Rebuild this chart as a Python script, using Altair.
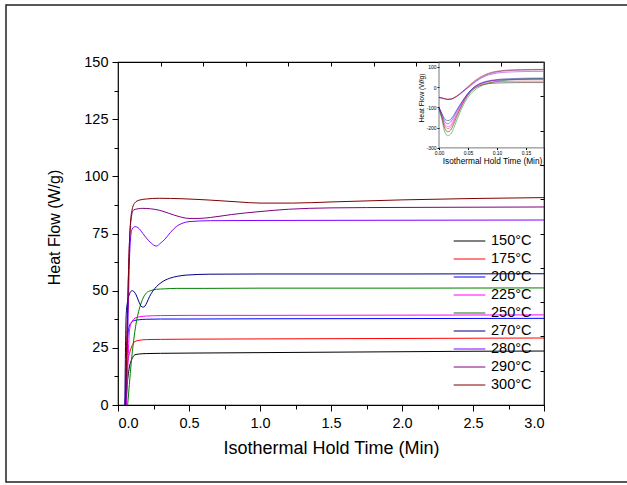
import altair as alt
import pandas as pd

FONT = "Liberation Sans"

# ---------------- data ----------------
labels = ["150°C", "175°C", "200°C", "225°C", "250°C", "270°C", "280°C", "290°C", "300°C"]
colors = ["#000000", "#FF0000", "#0000FF", "#FF00FF", "#008000", "#000080", "#8000FF", "#800080", "#800000"]

# main plot: isothermal hold time (min) vs heat flow (W/g)
t150 = [0.055, 0.065, 0.081, 0.1, 0.117, 0.15, 0.2, 0.3, 0.5, 1.0, 1.5, 2.0, 2.5, 3.0]
h150 = [0, 9, 16.8, 20.3, 21.9, 22.3, 22.5, 22.6, 22.7, 22.9, 23.1, 23.3, 23.5, 23.6]

t175 = [0.05, 0.06, 0.07, 0.081, 0.1, 0.117, 0.15, 0.2, 0.3, 0.5, 1.0, 2.0, 3.0]
h175 = [0, 13, 19.5, 22.6, 26, 27.7, 28.3, 28.6, 28.7, 28.8, 28.9, 29.1, 29.3]

t200 = [0.052, 0.06, 0.07, 0.08, 0.095, 0.12, 0.15, 0.2, 0.3, 0.5, 1.0, 2.0, 3.0]
h200 = [0, 20, 31, 34.5, 36.2, 37, 37.3, 37.5, 37.6, 37.6, 37.7, 37.8, 37.9]

t225 = [0.06, 0.07, 0.081, 0.095, 0.105, 0.12, 0.152, 0.2, 0.3, 0.5, 1.0, 2.0, 3.0]
h225 = [0, 18, 32.8, 36, 37.2, 38, 38.6, 38.9, 39.1, 39.2, 39.2, 39.3, 39.4]

t250 = [0.068, 0.08, 0.093, 0.11, 0.128, 0.145, 0.163, 0.18, 0.2, 0.23, 0.27, 0.33, 0.41, 0.6, 1.0, 2.0, 3.0]
h250 = [0, 9, 18.4, 28, 35.9, 40.8, 44.6, 47.2, 49, 50, 50.6, 50.8, 51, 51, 51.1, 51.1, 51.2]

t270 = [0.048, 0.058, 0.07, 0.081, 0.093, 0.102, 0.115, 0.128, 0.145, 0.163, 0.178, 0.19, 0.205,
        0.222, 0.245, 0.27, 0.31, 0.363, 0.42, 0.48, 0.645, 1.0, 2.0, 3.0]
h270 = [0, 40, 46, 48.6, 49.8, 50, 49.4, 48.1, 45.5, 43.2, 42.8, 43.3, 45,
        47.4, 49.8, 51.7, 53.8, 55.4, 56.3, 56.8, 57.2, 57.3, 57.3, 57.4]

t280 = [0.055, 0.07, 0.08, 0.09, 0.1, 0.12, 0.14, 0.175, 0.2, 0.234, 0.27, 0.3, 0.33, 0.37,
        0.41, 0.45, 0.5, 0.65, 1.0, 2.0, 3.0]
h280 = [0, 35, 62, 74, 77, 78, 77.6, 75, 73, 70.8, 69.5, 70.8, 72.5, 75.5,
        78, 79.4, 80.2, 80.6, 80.7, 80.8, 80.9]

t290 = [0.052, 0.065, 0.08, 0.095, 0.11, 0.14, 0.175, 0.23, 0.29, 0.36, 0.43, 0.5, 0.57, 0.65,
        0.8, 1.0, 1.2, 1.5, 2.0, 2.5, 3.0]
h290 = [0, 35, 70, 82.5, 85.3, 85.8, 86, 85.8, 85.2, 83.8, 82.4, 81.6, 81.6, 82,
        83.3, 84.6, 85.6, 86.2, 86.4, 86.5, 86.6]

t300 = [0.053, 0.065, 0.08, 0.095, 0.117, 0.15, 0.2, 0.29, 0.45, 0.65, 0.85, 1.0, 1.23, 1.5, 2.0, 2.5, 3.0]
h300 = [0, 35, 70, 84, 88.3, 89.6, 90.1, 90.4, 90.2, 89.6, 88.8, 88.3, 88.3, 88.8, 89.7, 90.3, 90.7]

main_t = [t150, t175, t200, t225, t250, t270, t280, t290, t300]
main_h = [h150, h175, h200, h225, h250, h270, h280, h290, h300]

# inset: first 0.18 min of the hold
inset_t = [0, 0.005, 0.01, 0.015, 0.02, 0.025, 0.03, 0.04, 0.05, 0.06, 0.07, 0.08, 0.09, 0.1, 0.12, 0.14, 0.16, 0.18]
i150 = [-105, -150, -205, -220, -212, -185, -150, -88, -40, -9, 7, 15, 19, 21, 22, 23, 23, 23]
i175 = [-104, -145, -192, -205, -198, -172, -140, -82, -36, -6, 10, 19, 24, 27, 29, 30, 30, 30]
i200 = [-100, -135, -170, -180, -172, -150, -122, -72, -30, -2, 15, 25, 31, 34, 37, 38, 39, 39]
i225 = [-102, -140, -182, -195, -188, -163, -133, -78, -34, -4, 14, 25, 31, 35, 38, 39, 40, 40]
i250 = [-110, -160, -222, -240, -232, -205, -168, -100, -50, -18, 2, 15, 23, 29, 36, 40, 42, 43]
i270 = [-100, -130, -158, -165, -160, -140, -115, -70, -30, 0, 18, 28, 34, 38, 42, 44, 45, 45]
i280 = [-52, -55, -58, -61, -60, -55, -47, -26, -3, 20, 40, 55, 64, 70, 75, 77, 78, 78]
i290 = [-50, -53, -57, -60, -59, -54, -46, -24, 0, 24, 44, 59, 69, 76, 82, 84, 85, 86]
i300 = [-50, -53, -57, -59, -58, -53, -45, -22, 3, 28, 48, 63, 73, 79, 85, 87, 88, 88]
inset_h = [i150, i175, i200, i225, i250, i270, i280, i290, i300]

x_major = [0, 0.5, 1.0, 1.5, 2.0, 2.5, 3.0]
x_minor = [0.25, 0.75, 1.25, 1.75, 2.25, 2.75]
y_major = [0, 25, 50, 75, 100, 125, 150]
y_minor = [12.5, 37.5, 62.5, 87.5, 112.5, 137.5]
x_top = [0.3, 0.6, 0.9, 1.2, 1.5, 1.8, 2.1, 2.4, 2.7]
y_right = [15, 30, 45, 60, 75, 90, 105, 120, 135]
xi_ticks = [0, 0.05, 0.10, 0.15]
yi_ticks = [-300, -200, -100, 0, 100]

rows = []
for lab, ts, hs in zip(labels, main_t, main_h):
    for i, (t, h) in enumerate(zip(ts, hs)):
        rows.append({"series": lab, "t": t, "hf": h, "i": i})
main_df = pd.DataFrame(rows)

rows = []
for lab, hs in zip(labels, inset_h):
    for i, (t, h) in enumerate(zip(inset_t, hs)):
        rows.append({"series": lab, "ti": t, "hfi": h, "i": i})
inset_df = pd.DataFrame(rows)

# ---------------- layout ----------------
W, H = 426, 343
PAD = {"left": 118, "top": 62, "right": 627 - 118 - W, "bottom": 485 - 62 - H}


def xs_main():
    return alt.Scale(domain=[0, 3], nice=False, zero=False)


def ys_main():
    return alt.Scale(domain=[0, 150], nice=False, zero=False)


# inset scales place 0..0.18 min / -300..~125 W/g in the top-right corner of the plot area
def xs_in():
    return alt.Scale(domain=[-0.5534, 0.181], nice=False, zero=False)


def ys_in():
    return alt.Scale(domain=[-1571.6, 124.7], nice=False, zero=False)


base = alt.Chart(main_df)

lines = base.mark_line(strokeWidth=1, interpolate="monotone").encode(
    x=alt.X("t:Q", scale=xs_main(),
            axis=alt.Axis(orient="bottom", values=x_major, format=".1f", tickSize=6,
                          labelPadding=5, labelFontSize=14.5, domain=False,
                          title="Isothermal Hold Time (Min)", titleFontSize=18, titlePadding=10)),
    y=alt.Y("hf:Q", scale=ys_main(),
            axis=alt.Axis(orient="left", values=y_major, format="d", tickSize=6,
                          labelPadding=4, labelFontSize=14.5, domain=False,
                          title="Heat Flow (W/g)", titleFontSize=16, titlePadding=21, titleY=165)),
    color=alt.Color("series:N", scale=alt.Scale(domain=labels, range=colors), sort=labels, title=None,
                    legend=alt.Legend(orient="none", legendX=335, legendY=170, symbolType="stroke",
                                      symbolSize=1000, symbolStrokeWidth=1, labelFontSize=14.5,
                                      labelFont=FONT, labelColor="black", labelOffset=5, clipHeight=18,
                                      rowPadding=0, padding=0, labelLimit=200)),
    order=alt.Order("i:Q"),
)

ghost = base.mark_line(opacity=0)
minor_x = ghost.encode(
    x=alt.X("t:Q", scale=xs_main(), axis=alt.Axis(orient="bottom", values=x_minor, tickSize=4,
                                                  labels=False, domain=False, title="")),
    y=alt.Y("hf:Q", scale=ys_main(), axis=None),
)
minor_y = ghost.encode(
    x=alt.X("t:Q", scale=xs_main(), axis=None),
    y=alt.Y("hf:Q", scale=ys_main(), axis=alt.Axis(orient="left", values=y_minor, tickSize=4,
                                                   labels=False, domain=False, title="")),
)
top_ax = ghost.encode(
    x=alt.X("t:Q", scale=xs_main(), axis=alt.Axis(orient="top", values=x_top, tickSize=4, offset=-4,
                                                  labels=False, domain=False, title="")),
    y=alt.Y("hf:Q", scale=ys_main(), axis=None),
)
right_ax = ghost.encode(
    x=alt.X("t:Q", scale=xs_main(), axis=None),
    y=alt.Y("hf:Q", scale=ys_main(), axis=alt.Axis(orient="right", values=y_right, tickSize=4, offset=-4,
                                                   labels=False, domain=False, title="")),
)

frame_in = alt.Chart(alt.Data(values=[{}])).mark_rect(filled=False, stroke="#555", strokeWidth=0.8).encode(
    x=alt.XDatum(0, type="quantitative", scale=xs_in(), axis=None),
    x2=alt.value(W),
    y=alt.YDatum(-300, type="quantitative", scale=ys_in(), axis=None),
    y2=alt.value(0),
)

inset_lines = alt.Chart(inset_df).mark_line(strokeWidth=0.8, opacity=0.6, interpolate="monotone").encode(
    x=alt.X("ti:Q", scale=xs_in(),
            axis=alt.Axis(orient="bottom", offset=-257.5, values=xi_ticks, format=".2f", domain=False,
                          tickSize=2, labelFontSize=5, labelPadding=1, title="Isothermal Hold Time (Min)",
                          titleFontSize=8.3, titlePadding=1, titleX=374)),
    y=alt.Y("hfi:Q", scale=ys_in(),
            axis=alt.Axis(orient="left", offset=-321, values=yi_ticks, domain=False, tickSize=2,
                          labelExpr="datum.value < 0 ? '-' + format(-datum.value, 'd') : format(datum.value, 'd')",
                          labelFontSize=5, labelPadding=1, title="Heat Flow (W/g)", titleFontSize=6.8,
                          titlePadding=1.5, titleY=35.5)),
    color=alt.Color("series:N", scale=alt.Scale(domain=labels, range=colors), legend=None),
    order=alt.Order("i:Q"),
)

outer_frame = alt.Chart(alt.Data(values=[{}])).mark_rect(filled=False, stroke="#222", strokeWidth=1.5).encode(
    x=alt.value(-112), x2=alt.value(522), y=alt.value(-57), y2=alt.value(420)
)

chart = (
    alt.layer(outer_frame, lines, minor_x, minor_y, top_ax, right_ax, frame_in, inset_lines)
    .resolve_scale(x="independent", y="independent", color="independent")
    .properties(width=W, height=H, padding=PAD, autosize=alt.AutoSizeParams(type="none"),
                background="white")
    .configure_view(stroke="black", strokeWidth=1.2)
    .configure_axis(grid=False, labelFont=FONT, titleFont=FONT, titleFontWeight="normal",
                    labelColor="black", titleColor="black", tickColor="black", tickWidth=1)
)

chart.save("out.html", embed_options={"renderer": "svg", "actions": False})
